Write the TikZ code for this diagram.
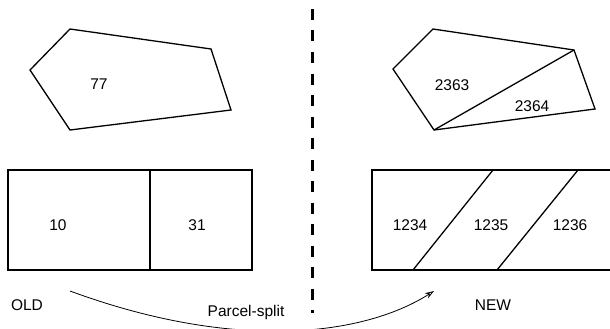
\documentclass[tikz,border=0pt]{standalone}
\usepackage{fontspec}
\setmainfont{Liberation Sans}
\usetikzlibrary{arrows.meta}
\begin{document}
\begin{tikzpicture}[x=1pt,y=-1pt,
  shape line/.style={line width=1.3pt, line join=miter},
  lbl/.style={font=\fontsize{15.5}{18}\selectfont, inner sep=0pt},
  divider/.style={line width=3pt, dash pattern=on 11pt off 10.5pt},
  flow/.style={line width=0.8pt, -{Stealth[open, length=9pt, width=6pt]}}]
\useasboundingbox (0,0) rectangle (610,329);
% old polygon
\coordinate (a1) at (70,29);
\coordinate (a2) at (211,49);
\coordinate (a3) at (231,110);
\coordinate (a4) at (70,130);
\coordinate (a5) at (30,70);
\draw[shape line] (a1) -- (a2) -- (a3) -- (a4) -- (a5) -- cycle;
\node[lbl] (p77) at (99,84) {77};
% new polygon
\coordinate (b1) at (433,29);
\coordinate (b2) at (574,50);
\coordinate (b3) at (595,109);
\coordinate (b4) at (434,130);
\coordinate (b5) at (393,69);
\draw[shape line] (b1) -- (b2) -- (b3) -- (b4) -- (b5) -- cycle;
\draw[shape line] (b4) -- (b2);
\node[lbl] (p2363) at (452,85) {2363};
\node[lbl] (p2364) at (532,106) {2364};
% old rectangle
\coordinate (r1) at (8,170);
\coordinate (r2) at (252,270);
\coordinate (rm1) at (150,170);
\coordinate (rm2) at (150,270);
\draw[shape line] (r1) rectangle (r2);
\draw[shape line] (rm1) -- (rm2);
\node[lbl] (p10) at (58,225) {10};
\node[lbl] (p31) at (197,225) {31};
% new rectangle
\coordinate (s1) at (372,170);
\coordinate (s2) at (616,270);
\coordinate (d1t) at (493,170);
\coordinate (d1b) at (413,270);
\coordinate (d2t) at (578,170);
\coordinate (d2b) at (497,270);
\draw[shape line] (s1) rectangle (s2);
\draw[shape line] (d1t) -- (d1b);
\draw[shape line] (d2t) -- (d2b);
\node[lbl] (p1234) at (410,225) {1234};
\node[lbl] (p1235) at (491,225) {1235};
\node[lbl] (p1236) at (570,225) {1236};
% divider
\coordinate (dtop) at (312,9);
\coordinate (dbot) at (312,313);
\draw[divider] (dtop) -- (dbot);
% labels
\node[lbl] (old) at (27,305) {OLD};
\node[lbl] (new) at (493,305) {NEW};
\node[lbl] (ps) at (246,312) {Parcel-split};
% arrow
\coordinate (cs) at (70,291);
\coordinate (ce) at (434,291);
\draw[flow] (cs) .. controls (230,350) and (360,338) .. (ce);
\end{tikzpicture}
\end{document}
